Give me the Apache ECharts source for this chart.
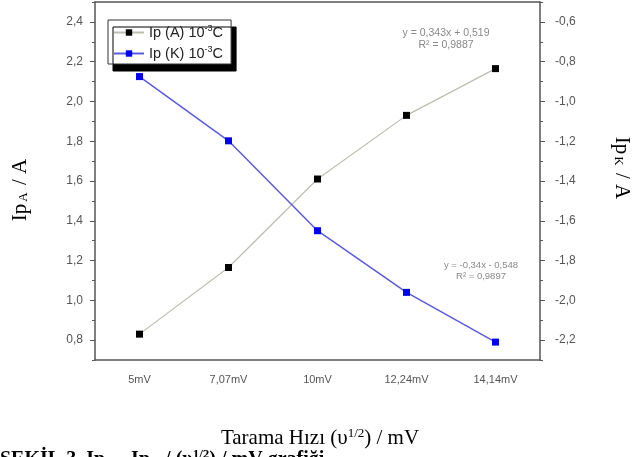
<!DOCTYPE html>
<html>
<head>
<meta charset="utf-8">
<script src="https://cdn.jsdelivr.net/npm/echarts@6/dist/echarts.min.js"></script>
<style>
  html, body { margin: 0; padding: 0; background: #fff; }
  #main { width: 636px; height: 457px; }
</style>
</head>
<body>
<div id="main"></div>
<script>
// veriler
var categories = ['5mV', '7,07mV', '10mV', '12,24mV', '14,14mV'];
var ipA = [0.83, 1.165, 1.61, 1.93, 2.165];
var ipK = [-0.875, -1.198, -1.65, -1.96, -2.21];
var leftTicks = [0.8, 1.0, 1.2, 1.4, 1.6, 1.8, 2.0, 2.2, 2.4];
var leftMinor = [0.7, 0.9, 1.1, 1.3, 1.5, 1.7, 1.9, 2.1, 2.3, 2.5];
var rightTicks = [-2.2, -2.0, -1.8, -1.6, -1.4, -1.2, -1.0, -0.8, -0.6];
var rightMinor = [-2.3, -2.1, -1.9, -1.7, -1.5, -1.3, -1.1, -0.9, -0.7, -0.5];

var axisCol = '#555';
var labelCol = '#555';
function comma(v) { return v.toFixed(1).replace('.', ','); }

var myChart = echarts.init(document.getElementById('main'));

var option = {
    animation: false,
    backgroundColor: '#fff',
    grid: { left: 95, right: 96, top: 2, bottom: 97, containLabel: false },
    legend: {
        left: 108, top: 20,
        orient: 'vertical',
        itemWidth: 30, itemHeight: 8, itemGap: 5,
        padding: [4, 8, 3, 5],
        backgroundColor: '#fff',
        borderColor: '#333', borderWidth: 1,
        shadowColor: '#000', shadowOffsetX: 5, shadowOffsetY: 7, shadowBlur: 0,
        textStyle: {
            fontFamily: 'Liberation Sans', fontSize: 14.5, color: '#222',
            rich: { sup: { fontSize: 9, verticalAlign: 'top', padding: [0, 0, 8, 0], color: '#222' } }
        },
        formatter: function (name) {
            return name === 'A' ? 'Ip (A) 10{sup|-3}C' : 'Ip (K) 10{sup|-3}C';
        },
        data: ['A', 'K']
    },
    xAxis: [{
        type: 'category',
        data: categories,
        position: 'bottom',
        axisLine: { lineStyle: { color: axisCol, width: 1.5 } },
        axisTick: { alignWithLabel: true, length: 5, lineStyle: { color: axisCol } },
        axisLabel: { color: labelCol, fontFamily: 'Liberation Sans', fontSize: 11, margin: 14 }
    }, {
        type: 'category',
        data: categories,
        position: 'top',
        axisLine: { lineStyle: { color: axisCol, width: 1.5 } },
        axisTick: { alignWithLabel: true, inside: true, length: 5, lineStyle: { color: axisCol } },
        axisLabel: { show: false }
    }, {
        type: 'category',
        data: categories,
        position: 'bottom',
        axisLine: { show: false },
        axisTick: { alignWithLabel: false, length: 3, lineStyle: { color: axisCol } },
        axisLabel: { show: false }
    }],
    yAxis: [{
        type: 'value', position: 'left', min: 0.7, max: 2.5,
        splitLine: { show: false },
        axisLine: { show: true, lineStyle: { color: axisCol, width: 1.5 } },
        axisTick: { show: true, length: 5, customValues: leftTicks, lineStyle: { color: axisCol } },
        axisLabel: { customValues: leftTicks, formatter: comma, color: labelCol,
            fontFamily: 'Liberation Sans', fontSize: 12, margin: 12 }
    }, {
        type: 'value', position: 'right', min: -2.3, max: -0.5,
        splitLine: { show: false },
        axisLine: { show: true, lineStyle: { color: axisCol, width: 1.5 } },
        axisTick: { show: true, length: 5, customValues: rightTicks, lineStyle: { color: axisCol } },
        axisLabel: { customValues: rightTicks, formatter: comma, color: labelCol,
            fontFamily: 'Liberation Sans', fontSize: 12, margin: 15 }
    }, {
        type: 'value', position: 'left', min: 0.7, max: 2.5,
        splitLine: { show: false },
        axisLine: { show: false },
        axisTick: { show: true, length: 3, customValues: leftMinor, lineStyle: { color: axisCol } },
        axisLabel: { show: false, customValues: [] }
    }, {
        type: 'value', position: 'right', min: -2.3, max: -0.5,
        splitLine: { show: false },
        axisLine: { show: false },
        axisTick: { show: true, length: 3, customValues: rightMinor, lineStyle: { color: axisCol } },
        axisLabel: { show: false, customValues: [] }
    }],
    series: [{
        name: 'A', type: 'line', xAxisIndex: 0, yAxisIndex: 0,
        data: ipA,
        symbol: 'rect', symbolSize: 7,
        itemStyle: { color: '#000' },
        lineStyle: { color: '#bdbdb2', width: 1.2 }
    }, {
        name: 'K', type: 'line', xAxisIndex: 0, yAxisIndex: 1,
        data: ipK,
        symbol: 'rect', symbolSize: 7,
        itemStyle: { color: '#0000f0' },
        lineStyle: { color: '#5a5ae0', width: 1.5 }
    }],
    graphic: [{
        type: 'text', x: 446, y: 33,
        style: { text: 'y = 0,343x + 0,519', align: 'center', verticalAlign: 'middle',
            font: '10.5px Liberation Sans', fill: '#888' }
    }, {
        type: 'text', x: 446, y: 45,
        style: { text: 'R² = 0,9887', align: 'center', verticalAlign: 'middle',
            font: '10.5px Liberation Sans', fill: '#888' }
    }, {
        type: 'text', x: 481, y: 265,
        style: { text: 'y = -0,34x - 0,548', align: 'center', verticalAlign: 'middle',
            font: '9.5px Liberation Sans', fill: '#888' }
    }, {
        type: 'text', x: 481, y: 276,
        style: { text: 'R² = 0,9897', align: 'center', verticalAlign: 'middle',
            font: '9.5px Liberation Sans', fill: '#888' }
    }, {
        type: 'text', x: 20, y: 190, rotation: Math.PI / 2,
        style: {
            text: 'Ip{sub|A} / A', align: 'center', verticalAlign: 'middle',
            font: '21px Liberation Serif', fill: '#000',
            rich: {
                sub: { font: '13px Liberation Serif', fill: '#000', padding: [8, 2, 0, 2] }
            }
        }
    }, {
        type: 'text', x: 622, y: 168, rotation: -Math.PI / 2,
        style: {
            text: 'Ip{sub|K} / A', align: 'center', verticalAlign: 'middle',
            font: '21px Liberation Serif', fill: '#000',
            rich: {
                sub: { font: '13px Liberation Serif', fill: '#000', padding: [8, 2, 0, 2] }
            }
        }
    }, {
        type: 'text', x: 320, y: 427,
        style: {
            text: 'Tarama Hızı (υ{sup|1/2}) / mV', align: 'center', verticalAlign: 'top',
            font: '21px Liberation Serif', fill: '#000',
            rich: {
                sup: { font: '13px Liberation Serif', fill: '#000', padding: [0, 0, 10, 0] }
            }
        }
    }, {
        type: 'text', x: 0, y: 448,
        style: {
            text: 'ŞEKİL 3. Ip{sub|A} - Ip{sub|K} / (υ{sup|1/2}) / mV grafiği', align: 'left', verticalAlign: 'top',
            font: 'bold 20px Liberation Serif', fill: '#000',
            rich: {
                sub: { font: 'bold 13px Liberation Serif', fill: '#000', padding: [8, 0, 0, 0] },
                sup: { font: 'bold 13px Liberation Serif', fill: '#000', padding: [0, 0, 10, 0] }
            }
        }
    }]
};

myChart.setOption(option);
</script>
</body>
</html>
